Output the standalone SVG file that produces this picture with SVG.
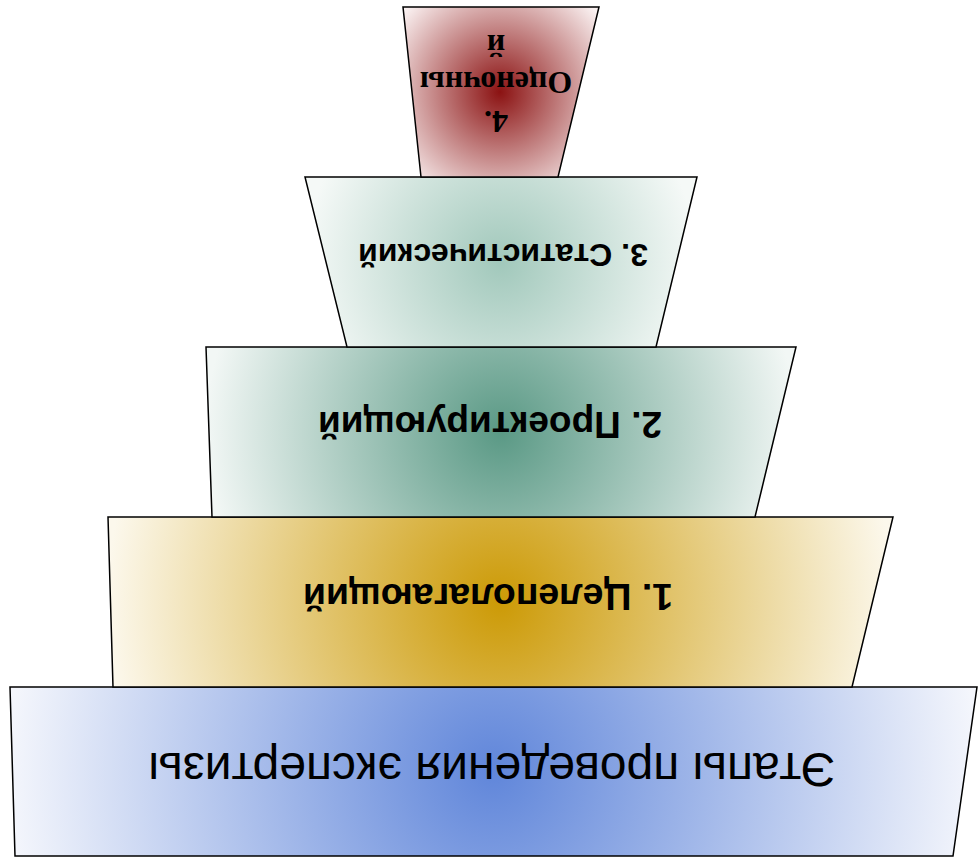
<svg xmlns="http://www.w3.org/2000/svg" width="978" height="857" viewBox="0 0 978 857">
<defs>
<radialGradient id="gBlue" gradientUnits="userSpaceOnUse" cx="493" cy="771" r="484">
<stop offset="0" stop-color="#6086da"/><stop offset="1" stop-color="#f4f6fc"/></radialGradient>
<radialGradient id="gGold" gradientUnits="userSpaceOnUse" cx="500" cy="602" r="393">
<stop offset="0" stop-color="#cc9a06"/><stop offset="1" stop-color="#fcf8ec"/></radialGradient>
<radialGradient id="gGreen" gradientUnits="userSpaceOnUse" cx="501" cy="432" r="295">
<stop offset="0" stop-color="#5a9985"/><stop offset="1" stop-color="#f2f7f5"/></radialGradient>
<radialGradient id="gLight" gradientUnits="userSpaceOnUse" cx="501" cy="262" r="196">
<stop offset="0" stop-color="#a1c8bb"/><stop offset="1" stop-color="#f5f9f7"/></radialGradient>
<radialGradient id="gRed" gradientUnits="userSpaceOnUse" cx="500" cy="92" r="125">
<stop offset="0" stop-color="#8b1212"/><stop offset="1" stop-color="#faf1f1"/></radialGradient>
</defs>
<style>
.sh{stroke:#000;stroke-width:1.5;stroke-linejoin:miter}
.t{font-family:"Liberation Sans",Arial,sans-serif;text-anchor:middle;fill:#000}
.b{font-weight:bold}
.s{font-family:"Liberation Serif","Times New Roman",serif;font-weight:bold;text-anchor:middle;fill:#000}
</style>
<g id="node0">
<polygon class="sh" fill="url(#gBlue)" points="10,687 977,687 953,856 15,856"/>
<text class="t" x="492" y="787" font-size="48" transform="rotate(180 492 770)">Этапы проведения экспертизы</text>
</g>
<g id="node1">
<polygon class="sh" fill="url(#gGold)" points="108,517 893,517 852,687 113,687"/>
<text class="t b" x="488" y="610" font-size="37.5" transform="rotate(180 488 597)">1. Целеполагающий</text>
</g>
<g id="node2">
<polygon class="sh" fill="url(#gGreen)" points="206,347 796,347 755,517 212,517"/>
<text class="t b" x="490" y="438" font-size="37" transform="rotate(180 490 425)">2. Проектирующий</text>
</g>
<g id="node3">
<polygon class="sh" fill="url(#gLight)" points="305,177 697,177 656,347 347,347"/>
<text class="t b" x="503" y="266" font-size="32" transform="rotate(180 503 255)">3. Статистический</text>
</g>
<g id="node4">
<polygon class="sh" fill="url(#gRed)" points="403,7 599,7 558,177 421,177"/>
<text class="s" font-size="32" transform="rotate(180 496 78)"><tspan x="496" y="45">4.</tspan><tspan x="496" y="84">Оценочны</tspan><tspan x="496" y="121">й</tspan></text>
</g>
<g id="connectors"/>
</svg>
